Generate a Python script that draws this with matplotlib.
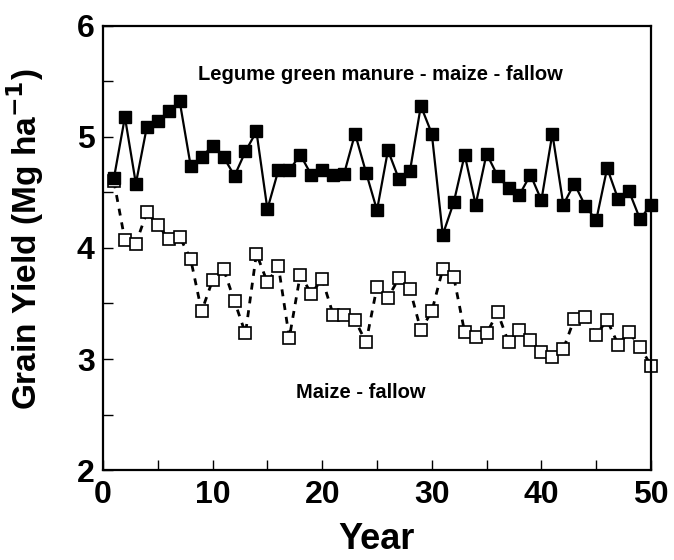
import matplotlib
matplotlib.use("Agg")
import matplotlib.pyplot as plt
import numpy as np

plt.rcParams["font.family"] = ["Liberation Sans", "DejaVu Sans"]
plt.rcParams["font.weight"] = "bold"

years = np.arange(1, 51)

# legume green manure - maize - fallow (filled squares)
legume = [4.63, 5.18, 4.58, 5.09, 5.14, 5.23, 5.32, 4.74, 4.82, 4.92,
          4.82, 4.65, 4.87, 5.05, 4.35, 4.70, 4.70, 4.84, 4.66, 4.70,
          4.66, 4.67, 5.03, 4.68, 4.34, 4.88, 4.62, 4.69, 5.28, 5.03,
          4.12, 4.41, 4.84, 4.39, 4.85, 4.65, 4.54, 4.48, 4.66, 4.43,
          5.03, 4.39, 4.58, 4.38, 4.25, 4.72, 4.44, 4.51, 4.26, 4.39]

# maize - fallow (open squares)
fallow = [4.60, 4.07, 4.04, 4.32, 4.21, 4.08, 4.10, 3.90, 3.43, 3.71,
          3.81, 3.52, 3.23, 3.95, 3.69, 3.84, 3.19, 3.76, 3.59, 3.72,
          3.40, 3.40, 3.35, 3.15, 3.65, 3.55, 3.73, 3.63, 3.26, 3.43,
          3.81, 3.74, 3.24, 3.20, 3.23, 3.42, 3.15, 3.26, 3.17, 3.06,
          3.02, 3.09, 3.36, 3.38, 3.22, 3.35, 3.13, 3.24, 3.11, 2.94]

fig = plt.figure(figsize=(6.74, 5.6), dpi=100)
ax = fig.add_axes([0.1528, 0.1607, 0.8131, 0.7929])

ax.plot(years, fallow, color="black", linestyle=(0, (2.5, 2.5)), linewidth=2,
        marker="s", markersize=9, markerfacecolor="white",
        markeredgecolor="black", markeredgewidth=1.2, clip_on=False)
ax.plot(years, legume, color="black", linestyle="-", linewidth=1.6,
        marker="s", markersize=9, markerfacecolor="black",
        markeredgecolor="black", clip_on=False)

ax.text(25.3, 5.56, "Legume green manure - maize - fallow", ha="center",
        va="center", fontsize=14.5, fontweight="bold")
ax.text(23.5, 2.70, "Maize - fallow", ha="center", va="center",
        fontsize=14.5, fontweight="bold")

ax.set_xlim(0, 50)
ax.set_ylim(2, 6)
ax.set_xticks([0, 10, 20, 30, 40, 50])
ax.set_xticks(np.arange(5, 50, 10), minor=True)
ax.set_yticks([2, 3, 4, 5, 6])
ax.set_yticks(np.arange(2.5, 6, 1), minor=True)
ax.tick_params(which="both", direction="in", top=False, right=False,
               width=1.0)
ax.tick_params(which="major", length=7, labelsize=23)
ax.tick_params(axis="x", which="major", pad=7)
ax.tick_params(axis="y", which="major", pad=6)
ax.tick_params(which="minor", length=7)
for lab in ax.get_xticklabels() + ax.get_yticklabels():
    lab.set_fontweight("bold")
for sp in ax.spines.values():
    sp.set_linewidth(1.6)

ax.set_xlabel("Year", fontsize=26, fontweight="bold")
ax.set_ylabel(r"Grain Yield (Mg ha$^{\mathbf{-1}}$)", fontsize=24,
              fontweight="bold")
ax.xaxis.set_label_coords(0.5, -0.118)
ax.yaxis.set_label_coords(-0.104, 0.52)

fig.savefig("out.png", dpi=100)
